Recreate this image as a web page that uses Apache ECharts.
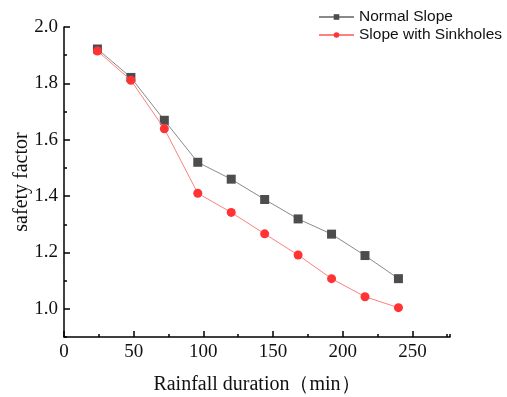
<!DOCTYPE html>
<html><head><meta charset="utf-8">
<script src="https://cdn.jsdelivr.net/npm/echarts@6/dist/echarts.min.js"></script>
<style>html,body{margin:0;padding:0;background:#fff}#c{width:507px;height:397px}</style>
</head><body><div id="c"></div>
<script>
const durations = [24, 48, 72, 96, 120, 144, 168, 192, 216, 240];
const normalSlope = [1.922, 1.821, 1.669, 1.520, 1.460, 1.388, 1.319, 1.265, 1.189, 1.107];
const sinkholeSlope = [1.915, 1.811, 1.639, 1.410, 1.342, 1.266, 1.191, 1.107, 1.043, 1.004];
const xTickLabels = [0, 50, 100, 150, 200, 250];
const yTickLabels = [1.0, 1.2, 1.4, 1.6, 1.8, 2.0];
const seriesNames = ['Normal Slope', 'Slope with Sinkholes'];

const chart = echarts.init(document.getElementById('c'), null, {renderer: 'canvas'});
const serif = 'Liberation Serif, Times New Roman, serif';
const axisLine = {show: true, onZero: false, lineStyle: {color: '#000', width: 1.5}};
chart.setOption({
  animation: false,
  backgroundColor: '#fff',
  grid: {left: 64, top: 27, right: 57, bottom: 60, containLabel: false, outerBoundsMode: 'none'},
  legend: {
    left: 313, top: 4, orient: 'vertical', itemGap: 2, itemWidth: 35, itemHeight: 7,
    textStyle: {fontFamily: 'Liberation Sans, Arial, sans-serif', fontSize: 15.5, color: '#111'},
    data: seriesNames
  },
  xAxis: [{
    type: 'value', min: 0, max: 277, interval: 25,
    axisLine: axisLine,
    axisTick: {show: true, inside: true, length: 3, lineStyle: {color: '#000', width: 1.5}},
    axisLabel: {customValues: xTickLabels, fontFamily: serif, fontSize: 19, color: '#111', margin: 6},
    splitLine: {show: false},
    name: 'Rainfall duration（min）', nameLocation: 'middle', nameGap: 38, nameMoveOverlap: false,
    nameTextStyle: {fontFamily: serif, fontSize: 20, color: '#111'}
  }, {
    type: 'value', min: 0, max: 277, position: 'bottom',
    axisLine: {show: false},
    axisTick: {show: true, inside: true, length: 6, customValues: xTickLabels, lineStyle: {color: '#000', width: 1.5}},
    axisLabel: {show: false}, splitLine: {show: false}
  }],
  yAxis: [{
    type: 'value', min: 0.9, max: 2.0, interval: 0.1,
    axisLine: axisLine,
    axisTick: {show: true, inside: true, length: 3, lineStyle: {color: '#000', width: 1.5}},
    axisLabel: {customValues: yTickLabels, formatter: v => v.toFixed(1), fontFamily: serif, fontSize: 19, color: '#111', margin: 6},
    splitLine: {show: false},
    name: 'safety factor', nameLocation: 'middle', nameGap: 32, nameMoveOverlap: false,
    nameTextStyle: {fontFamily: serif, fontSize: 20, color: '#111'}
  }, {
    type: 'value', min: 0.9, max: 2.0, position: 'left',
    axisLine: {show: false},
    axisTick: {show: true, inside: true, length: 6, customValues: yTickLabels, lineStyle: {color: '#000', width: 1.5}},
    axisLabel: {show: false}, splitLine: {show: false}
  }],
  series: [{
    name: seriesNames[0], type: 'line',
    data: durations.map((d, i) => [d, normalSlope[i]]),
    symbol: 'rect', symbolSize: 9,
    itemStyle: {color: '#4d4d4d'},
    lineStyle: {color: '#8a8a8a', width: 1},
    z: 3
  }, {
    name: seriesNames[1], type: 'line',
    data: durations.map((d, i) => [d, sinkholeSlope[i]]),
    symbol: 'circle', symbolSize: 9,
    itemStyle: {color: '#ff3333'},
    lineStyle: {color: '#ff8080', width: 1},
    z: 4
  }]
});
</script></body></html>
